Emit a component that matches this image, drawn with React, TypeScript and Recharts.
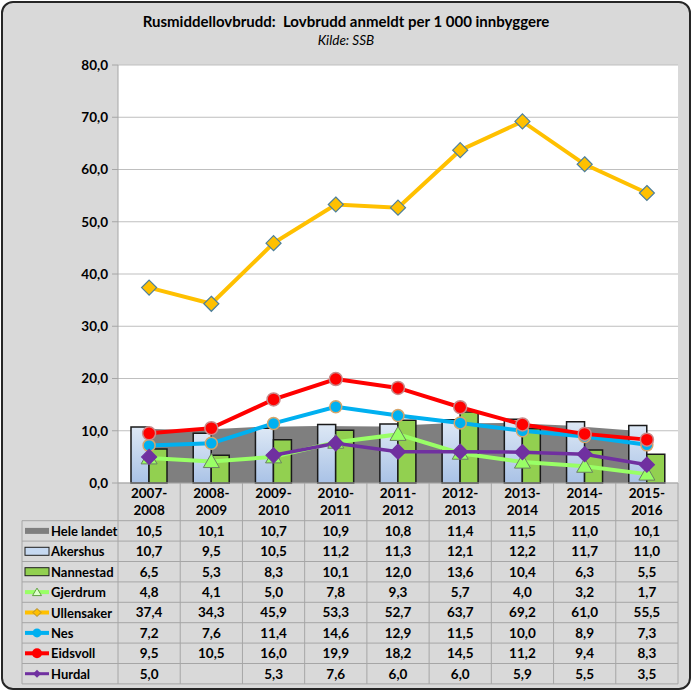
import React from 'react';
import { ComposedChart, Area, Bar, Line, XAxis, YAxis, CartesianGrid } from 'recharts';

// ---------- data ----------
const categories = ['2007-2008', '2008-2009', '2009-2010', '2010-2011', '2011-2012', '2012-2013', '2013-2014', '2014-2015', '2015-2016'];
const heleLandet = [10.5, 10.1, 10.7, 10.9, 10.8, 11.4, 11.5, 11.0, 10.1];
const akershus = [10.7, 9.5, 10.5, 11.2, 11.3, 12.1, 12.2, 11.7, 11.0];
const nannestad = [6.5, 5.3, 8.3, 10.1, 12.0, 13.6, 10.4, 6.3, 5.5];
const gjerdrum = [4.8, 4.1, 5.0, 7.8, 9.3, 5.7, 4.0, 3.2, 1.7];
const ullensaker = [37.4, 34.3, 45.9, 53.3, 52.7, 63.7, 69.2, 61.0, 55.5];
const nes = [7.2, 7.6, 11.4, 14.6, 12.9, 11.5, 10.0, 8.9, 7.3];
const eidsvoll = [9.5, 10.5, 16.0, 19.9, 18.2, 14.5, 11.2, 9.4, 8.3];
const hurdal: (number | null)[] = [5.0, null, 5.3, 7.6, 6.0, 6.0, 5.9, 5.5, 3.5];
const yTicks = [0, 10, 20, 30, 40, 50, 60, 70, 80];
const seriesNames = ['Hele landet', 'Akershus', 'Nannestad', 'Gjerdrum', 'Ullensaker', 'Nes', 'Eidsvoll', 'Hurdal'];
const seriesValues: (number | null)[][] = [heleLandet, akershus, nannestad, gjerdrum, ullensaker, nes, eidsvoll, hurdal];
const titleText = 'Rusmiddellovbrudd:  Lovbrudd anmeldt per 1 000 innbyggere';
const subtitleText = 'Kilde: SSB';

const data = categories.map((cat, i) => ({
  cat,
  idx: i,
  hele: heleLandet[i],
  akershus: akershus[i],
  nannestad: nannestad[i],
  gjerdrum: gjerdrum[i],
  ullensaker: ullensaker[i],
  nes: nes[i],
  eidsvoll: eidsvoll[i],
  hurdal: hurdal[i],
}));

// ---------- layout ----------
const W = 692;
const H = 691;
const PLOT_L = 118;
const PLOT_R = 678;
const PLOT_T = 65;
const PLOT_B = 483;
const COL_W = (PLOT_R - PLOT_L) / categories.length;
const ROW_TOP = 520.7;
const ROW_H = 20.4;
const TABLE_L = 22;
const TABLE_B = ROW_TOP + ROW_H * seriesNames.length;
const FONT = 'Lato, "Open Sans", sans-serif';
const GRID = '#a6a6a6';

const C = {
  hele: '#7f7f7f',
  aker: '#c6d9f1',
  nann: '#92d050',
  gjer: '#99ff66',
  ull: '#ffc000',
  nes: '#00b0f0',
  eids: '#ff0000',
  hurd: '#7030a0',
};

const fmt = (v: number | null | undefined) => (v == null ? '' : v.toFixed(1).replace('.', ','));

// ---------- markers ----------
const TriangleDot = (p: any) => {
  const { cx, cy } = p;
  if (cx == null || cy == null || p.value == null) return null;
  const s = 8;
  return <path d={`M${cx},${cy - s} L${cx + s},${cy + s * 0.75} L${cx - s},${cy + s * 0.75} Z`} fill={C.gjer} stroke="#6b7f63" strokeWidth={1} />;
};
const makeDiamond = (fill: string, stroke: string, s: number) => (p: any) => {
  const { cx, cy } = p;
  if (cx == null || cy == null || p.value == null) return null;
  return <path d={`M${cx},${cy - s} L${cx + s},${cy} L${cx},${cy + s} L${cx - s},${cy} Z`} fill={fill} stroke={stroke} strokeWidth={1.2} />;
};
const makeCircle = (fill: string, stroke: string, r: number) => (p: any) => {
  const { cx, cy } = p;
  if (cx == null || cy == null || p.value == null) return null;
  return <circle cx={cx} cy={cy} r={r} fill={fill} stroke={stroke} strokeWidth={1.5} />;
};

// ---------- x-axis tick = category label + table column ----------
const CategoryTick = (props: any) => {
  const { x, payload } = props;
  const i = payload?.index ?? props.index ?? 0;
  const label: string = payload?.value ?? '';
  const [a, b] = label.split('-');
  const half = COL_W / 2;
  return (
    <g>
      <text x={x} y={498} textAnchor="middle" fontFamily={FONT} fontWeight={700} fontSize={13.5} fill="#000">{a}-</text>
      <text x={x} y={515} textAnchor="middle" fontFamily={FONT} fontWeight={700} fontSize={13.5} fill="#000">{b}</text>
      <line x1={x + half} x2={x + half} y1={PLOT_B} y2={TABLE_B} stroke={GRID} strokeWidth={1} />
      {seriesValues.map((vals, r) => (
        <text key={r} x={x} y={ROW_TOP + ROW_H * r + 15} textAnchor="middle" fontFamily={FONT} fontWeight={700} fontSize={13.5} fill="#000">
          {fmt(vals[i])}
        </text>
      ))}
    </g>
  );
};

const LegendSymbol = ({ r, cy }: { r: number; cy: number }) => {
  const x1 = 25;
  const x2 = 49;
  const mx = 37;
  switch (r) {
    case 0:
      return <rect x={x1} y={cy - 3} width={24} height={6} fill={C.hele} />;
    case 1:
      return <rect x={x1} y={cy - 4} width={24} height={8} fill={C.aker} stroke="#1f1f1f" strokeWidth={1} />;
    case 2:
      return <rect x={x1} y={cy - 4} width={24} height={8} fill={C.nann} stroke="#1f1f1f" strokeWidth={1} />;
    case 3:
      return (
        <g>
          <line x1={x1} x2={x2} y1={cy} y2={cy} stroke={C.gjer} strokeWidth={4} />
          <path d={`M${mx},${cy - 4} L${mx + 4.5},${cy + 3.5} L${mx - 4.5},${cy + 3.5} Z`} fill="#ddffcc" stroke="#5fa040" strokeWidth={1} />
        </g>
      );
    case 4:
      return (
        <g>
          <line x1={x1} x2={x2} y1={cy} y2={cy} stroke={C.ull} strokeWidth={4} />
          <path d={`M${mx},${cy - 4} L${mx + 4},${cy} L${mx},${cy + 4} L${mx - 4},${cy} Z`} fill={C.ull} stroke="#b08a30" strokeWidth={1} />
        </g>
      );
    case 5:
      return (
        <g>
          <line x1={x1} x2={x2} y1={cy} y2={cy} stroke={C.nes} strokeWidth={4} />
          <circle cx={mx} cy={cy} r={4.5} fill={C.nes} />
        </g>
      );
    case 6:
      return (
        <g>
          <line x1={x1} x2={x2} y1={cy} y2={cy} stroke={C.eids} strokeWidth={4} />
          <circle cx={mx} cy={cy} r={5} fill={C.eids} />
        </g>
      );
    default:
      return (
        <g>
          <line x1={x1} x2={x2} y1={cy} y2={cy} stroke={C.hurd} strokeWidth={3} />
          <path d={`M${mx},${cy - 4} L${mx + 4},${cy} L${mx},${cy + 4} L${mx - 4},${cy} Z`} fill={C.hurd} />
        </g>
      );
  }
};

const Overlay = () => (
  <svg width={W} height={H} style={{ position: 'absolute', left: 0, top: 0, pointerEvents: 'none' }}>
    <text x={346} y={27} textAnchor="middle" fontFamily={FONT} fontWeight={700} fontSize={15} fill="#000" style={{ whiteSpace: 'pre' }}>{titleText}</text>
    <text x={346} y={45} textAnchor="middle" fontFamily={FONT} fontStyle="italic" fontSize={13.5} fill="#000">{subtitleText}</text>
    {/* table frame */}
    {Array.from({ length: seriesNames.length + 1 }).map((_, r) => (
      <line key={r} x1={TABLE_L} x2={PLOT_R} y1={ROW_TOP + ROW_H * r} y2={ROW_TOP + ROW_H * r} stroke={GRID} strokeWidth={1} />
    ))}
    <line x1={TABLE_L} x2={TABLE_L} y1={ROW_TOP} y2={TABLE_B} stroke={GRID} strokeWidth={1} />
    <line x1={PLOT_L} x2={PLOT_L} y1={PLOT_B} y2={TABLE_B} stroke={GRID} strokeWidth={1} />
    {seriesNames.map((name, r) => {
      const cy = ROW_TOP + ROW_H * r + ROW_H / 2;
      return (
        <g key={name}>
          <LegendSymbol r={r} cy={cy} />
          <text x={51} y={cy + 5} fontFamily={FONT} fontWeight={700} fontSize={13} fill="#000">{name}</text>
        </g>
      );
    })}
  </svg>
);

export default function App() {
  return (
    <div style={{ position: 'absolute', left: 0, top: 0, width: W, height: H }}>
      <div
        style={{
          position: 'absolute',
          left: 1,
          top: 1,
          width: W - 2,
          height: H - 2,
          boxSizing: 'border-box',
          border: '2px solid #262626',
          borderRadius: 12,
          background: '#d9d9d9',
        }}
      />
      <div style={{ position: 'absolute', left: 0, top: 0 }}>
        <ComposedChart
          width={W}
          height={H}
          data={data}
          margin={{ top: PLOT_T, right: W - PLOT_R, left: 0, bottom: 0 }}
          barGap={0}
        >
          <defs>
            <linearGradient id="akGrad" x1="0" y1="0" x2="0" y2="1">
              <stop offset="0%" stopColor="#dde8f5" />
              <stop offset="100%" stopColor="#a9c2e6" />
            </linearGradient>
          </defs>
          <CartesianGrid fill="#ffffff" stroke="#bfbfbf" vertical={false} />
          <XAxis
            dataKey="cat"
            interval={0}
            height={H - PLOT_B}
            axisLine={{ stroke: GRID }}
            tickLine={false}
            tick={<CategoryTick />}
          />
          <XAxis xAxisId="area" type="number" dataKey="idx" domain={[-0.21, 8.79]} hide allowDataOverflow />
          <YAxis
            width={PLOT_L}
            domain={[0, 80]}
            ticks={yTicks}
            interval={0}
            tickFormatter={(v: number) => fmt(v)}
            axisLine={{ stroke: GRID }}
            tickLine={{ stroke: GRID }}
            tickSize={6}
            tickMargin={4}
            tick={{ fill: '#000', fontFamily: FONT, fontWeight: 700, fontSize: 13.5 }}
          />
          <Area
            xAxisId="area"
            dataKey="hele"
            type="linear"
            fill={C.hele}
            fillOpacity={1}
            stroke="none"
            isAnimationActive={false}
            dot={false}
            activeDot={false}
          />
          <Bar dataKey="akershus" barSize={18} fill="url(#akGrad)" stroke="#1a1a1a" strokeWidth={1.5} isAnimationActive={false} />
          <Bar dataKey="nannestad" barSize={18} fill={C.nann} stroke="#1a1a1a" strokeWidth={1.5} isAnimationActive={false} />
          <Line dataKey="gjerdrum" type="linear" stroke={C.gjer} strokeWidth={4} dot={<TriangleDot />} activeDot={false} isAnimationActive={false} />
          <Line dataKey="ullensaker" type="linear" stroke={C.ull} strokeWidth={4} dot={makeDiamond(C.ull, '#4d7f9c', 7.5)} activeDot={false} isAnimationActive={false} />
          <Line dataKey="nes" type="linear" stroke={C.nes} strokeWidth={4} dot={makeCircle(C.nes, '#d6a56a', 6)} activeDot={false} isAnimationActive={false} />
          <Line dataKey="eidsvoll" type="linear" stroke={C.eids} strokeWidth={4} dot={makeCircle(C.eids, '#c98a8a', 6.5)} activeDot={false} isAnimationActive={false} />
          <Line dataKey="hurdal" type="linear" stroke={C.hurd} strokeWidth={3.5} dot={makeDiamond(C.hurd, C.hurd, 7.5)} activeDot={false} isAnimationActive={false} />
        </ComposedChart>
      </div>
      <Overlay />
    </div>
  );
}
